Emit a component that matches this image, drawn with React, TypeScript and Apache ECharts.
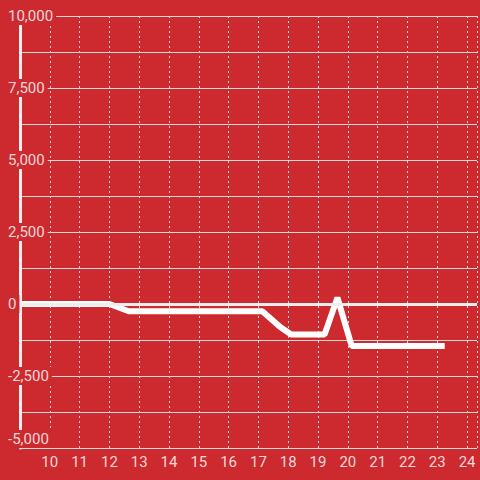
import React, { useEffect, useRef } from "react";
import * as echarts from "echarts";

const xValues = [9, 12.0, 12.65, 17.13, 17.73, 18.1, 19.22, 19.65, 20.13, 23.25];
const yValues = [0, 0, -250, -250, -800, -1060, -1060, 220, -1460, -1460];
const yTicks = { min: -5000, max: 10000, interval: 2500 };
const xTicks = { min: 9, max: 24.3333, interval: 1 };

const RED = "#cc2a2f";
const GRID = "#d9d9d9";
const LABEL = "rgba(255,255,255,0.82)";

export default function App() {
  const ref = useRef<HTMLDivElement>(null);
  useEffect(() => {
    if (!ref.current) return;
    const chart = echarts.init(ref.current, null, { renderer: "svg" });
    const data = xValues.map((x, i) => [x, yValues[i]]);
    chart.setOption({
      animation: false,
      backgroundColor: RED,
      textStyle: { fontFamily: "Roboto" },
      grid: { left: 20, right: 0, top: 16, bottom: 32, containLabel: false },
      xAxis: {
        type: "value",
        min: xTicks.min,
        max: xTicks.max,
        interval: xTicks.interval,
        axisLine: { show: false },
        axisTick: { show: false },
        splitLine: { show: true, lineStyle: { color: GRID, width: 1, type: [2, 3] } },
        axisLabel: {
          color: LABEL,
          fontSize: 15,
          fontFamily: "Roboto",
          margin: 6,
          formatter: (v: number) => (Number.isInteger(v) && v >= 10 ? String(v) : ""),
        },
      },
      yAxis: [
        {
          type: "value",
          position: "left",
          min: yTicks.min,
          max: yTicks.max,
          interval: yTicks.interval,
          axisLine: { show: false },
          axisTick: { show: false },
          axisLabel: { show: false },
          splitLine: { show: true, lineStyle: { color: GRID, width: 1 } },
          minorTick: { show: false, splitNumber: 2 },
          minorSplitLine: { show: true, lineStyle: { color: GRID, width: 1 } },
        },
        {
          type: "value",
          position: "left",
          z: 10,
          min: yTicks.min,
          max: yTicks.max,
          interval: yTicks.interval,
          axisLine: { show: true, onZero: false, lineStyle: { color: "#eeeeee", width: 3 } },
          axisTick: { show: false },
          splitLine: { show: false },
          axisLabel: {
            color: LABEL,
            fontSize: 15,
            fontFamily: "Roboto",
            align: "left",
            margin: 14,
            lineHeight: 16,
            padding: [1, 3, 1, 2],
            backgroundColor: RED,
            verticalAlignMinLabel: "bottom",
          },
        },
      ],
      series: [
        {
          type: "line",
          yAxisIndex: 0,
          data,
          showSymbol: false,
          symbol: "none",
          lineStyle: { color: "#ffffff", width: 6 },
          markLine: {
            silent: true,
            symbol: "none",
            label: { show: false },
            lineStyle: { color: "#eeeeee", width: 3, type: "solid" },
            data: [{ yAxis: 0 }],
          },
        },
      ],
    });
    return () => chart.dispose();
  }, []);
  return (
    <div
      ref={ref}
      style={{ position: "fixed", left: 0, top: 0, width: 480, height: 480 }}
    />
  );
}
